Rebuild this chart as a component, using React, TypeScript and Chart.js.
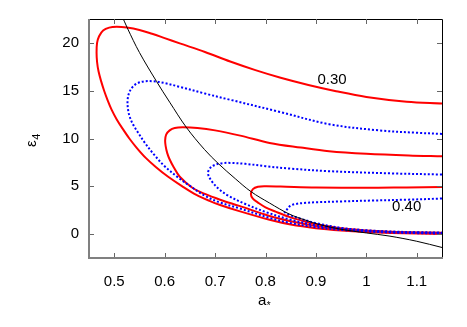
import { useEffect, useRef } from "react";
import { Chart, registerables } from "chart.js";

Chart.register(...registerables);

const xTicks = [0.5, 0.6, 0.7, 0.8, 0.9, 1.0, 1.1];
const xTickLabels = ["0.5", "0.6", "0.7", "0.8", "0.9", "1", "1.1"];
const yTicks = [0, 5, 10, 15, 20];
const yTickLabels = ["0", "5", "10", "15", "20"];

// red solid contour 0.30 (outer)
const red30X = [1.15, 1.08, 1.0, 0.94, 0.885, 0.83, 0.78, 0.73, 0.68, 0.63, 0.6, 0.575, 0.55, 0.525, 0.505, 0.49, 0.478, 0.47, 0.466, 0.465, 0.466, 0.469, 0.474, 0.48, 0.487, 0.495, 0.505, 0.517, 0.53, 0.545, 0.562, 0.583, 0.607, 0.635, 0.663, 0.69, 0.71, 0.748, 0.808, 0.85, 0.9, 0.95, 1.0, 1.05, 1.1, 1.15];
const red30Y = [13.65, 13.85, 14.35, 14.95, 15.6, 16.35, 17.15, 18.05, 19.05, 19.95, 20.5, 20.95, 21.35, 21.6, 21.68, 21.6, 21.3, 20.7, 20.0, 19.0, 18.0, 17.0, 16.0, 15.0, 14.0, 13.0, 12.0, 11.0, 10.0, 9.0, 8.0, 7.0, 6.0, 5.0, 4.1, 3.45, 3.05, 2.4, 1.5, 1.0, 0.62, 0.38, 0.22, 0.12, 0.06, 0.02];

// blue dotted contour (outer)
const blue1X = [1.15, 1.1, 1.025, 0.926, 0.827, 0.73, 0.68, 0.63, 0.6, 0.578, 0.56, 0.545, 0.535, 0.529, 0.5265, 0.527, 0.53, 0.537, 0.5475, 0.56, 0.58, 0.6, 0.626, 0.65, 0.68, 0.71, 0.748, 0.808, 0.85, 0.9, 0.95, 1.0, 1.05, 1.1, 1.15];
const blue1Y = [10.48, 10.6, 10.85, 11.5, 12.8, 14.05, 14.7, 15.4, 15.8, 15.98, 15.98, 15.75, 15.3, 14.7, 14.0, 13.2, 12.4, 11.5, 10.6, 9.6, 8.25, 7.1, 5.95, 5.05, 4.0, 3.3, 2.7, 1.7, 1.15, 0.72, 0.44, 0.27, 0.16, 0.1, 0.06];

// red solid contour (middle)
const red35X = [1.15, 1.084, 1.0, 0.926, 0.87, 0.808, 0.75, 0.7, 0.665, 0.636, 0.62, 0.61, 0.603, 0.601, 0.602, 0.605, 0.61, 0.618, 0.63, 0.655, 0.68, 0.71, 0.748, 0.808, 0.85, 0.9, 0.95, 1.0, 1.05, 1.1, 1.15];
const red35Y = [8.14, 8.22, 8.4, 8.67, 9.05, 9.54, 10.3, 10.85, 11.1, 11.17, 11.1, 10.85, 10.4, 9.8, 9.2, 8.5, 7.8, 7.0, 6.0, 4.85, 4.2, 3.6, 2.95, 1.9, 1.35, 0.85, 0.5, 0.31, 0.2, 0.14, 0.1];

// blue dotted contour (middle)
const blue2X = [1.15, 1.05, 0.926, 0.85, 0.8, 0.76, 0.73, 0.715, 0.7, 0.69, 0.686, 0.689, 0.696, 0.708, 0.725, 0.76, 0.801, 0.85, 0.9, 0.95, 1.0, 1.05, 1.1, 1.15];
const blue2Y = [6.23, 6.35, 6.58, 6.85, 7.1, 7.35, 7.45, 7.42, 7.25, 6.9, 6.4, 5.9, 5.35, 4.7, 4.05, 3.15, 2.3, 1.5, 0.92, 0.55, 0.34, 0.22, 0.16, 0.12];

// red solid contour 0.40 (inner)
const red40X = [1.15, 1.08, 1.0, 0.9, 0.83, 0.8, 0.785, 0.775, 0.771, 0.775, 0.785, 0.8, 0.82, 0.847, 0.88, 0.9, 0.95, 1.0, 1.05, 1.1, 1.15];
const red40Y = [4.92, 4.88, 4.84, 4.88, 4.97, 5.0, 4.95, 4.7, 4.2, 3.7, 3.3, 2.8, 2.35, 1.8, 1.3, 1.05, 0.6, 0.37, 0.25, 0.18, 0.14];

// blue dotted contour (inner)
const blue3X = [1.15, 1.08, 1.012, 0.95, 0.9, 0.88, 0.86, 0.849, 0.843, 0.838, 0.85, 0.87, 0.9, 0.95, 1.0, 1.05, 1.1, 1.15];
const blue3Y = [3.72, 3.6, 3.51, 3.42, 3.33, 3.27, 3.15, 2.95, 2.6, 2.3, 1.95, 1.6, 1.15, 0.65, 0.4, 0.27, 0.2, 0.16];

// thin black curve
const blackX = [0.514, 0.526, 0.55, 0.5838, 0.61, 0.643, 0.679, 0.707, 0.74, 0.771, 0.808, 0.847, 0.88, 0.9065, 0.95, 1.0, 1.045, 1.1, 1.15];
const blackY = [23.0, 21.56, 19.0, 15.98, 13.8, 11.17, 8.85, 7.35, 5.8, 4.45, 3.25, 2.1, 1.45, 1.0, 0.5, 0.12, -0.2, -0.75, -1.4];

const contourLabels = ["0.30", "0.40"];
const contourLabelX = [0.932, 1.08];
const contourLabelY = [16.1, 2.8];

const pts = (xs: number[], ys: number[]) => xs.map((x, i) => ({ x, y: ys[i] }));

const FONT = "'Liberation Sans', Arial, Helvetica, sans-serif";

const overlay = {
  id: "overlay",
  afterDraw(chart: any) {
    const { ctx, chartArea: a, scales } = chart;
    const xs = scales.x;
    const ys = scales.y;
    ctx.save();
    ctx.strokeStyle = "#000";
    ctx.lineWidth = 1;
    ctx.beginPath();
    ctx.moveTo(a.left, a.top + 0.5);
    ctx.lineTo(a.right + 0.5, a.top + 0.5);
    ctx.lineTo(a.right + 0.5, a.bottom);
    ctx.stroke();
    ctx.strokeStyle = "#666";
    ctx.lineWidth = 1;
    ctx.beginPath();
    for (const v of xTicks) {
      const px = Math.round(xs.getPixelForValue(v)) + 0.5;
      ctx.moveTo(px, a.bottom);
      ctx.lineTo(px, a.bottom - 5);
      ctx.moveTo(px, a.top);
      ctx.lineTo(px, a.top + 5);
    }
    for (const v of yTicks) {
      const py = Math.round(ys.getPixelForValue(v)) + 0.5;
      ctx.moveTo(a.left, py);
      ctx.lineTo(a.left + 5, py);
      ctx.moveTo(a.right, py);
      ctx.lineTo(a.right - 5, py);
    }
    ctx.stroke();
    ctx.strokeStyle = "#808080";
    ctx.lineWidth = 2;
    ctx.beginPath();
    ctx.moveTo(a.left, a.top);
    ctx.lineTo(a.left, a.bottom);
    ctx.lineTo(a.right + 1, a.bottom);
    ctx.stroke();

    ctx.fillStyle = "#000";
    ctx.font = `15px ${FONT}`;
    ctx.textAlign = "center";
    ctx.textBaseline = "middle";
    contourLabels.forEach((t, i) => {
      ctx.fillText(t, xs.getPixelForValue(contourLabelX[i]), ys.getPixelForValue(contourLabelY[i]));
    });

    ctx.textAlign = "left";
    ctx.textBaseline = "alphabetic";
    ctx.font = `15px ${FONT}`;
    ctx.fillText("a", 258, 305);
    const aw = ctx.measureText("a").width;
    ctx.font = `10px ${FONT}`;
    ctx.fillText("*", 258 + aw + 0.5, 309);

    ctx.save();
    ctx.translate(36, 147);
    ctx.rotate(-Math.PI / 2);
    ctx.font = `15px ${FONT}`;
    ctx.fillText("\u03b5", 0, 0);
    const ew = ctx.measureText("\u03b5").width;
    ctx.font = `11px ${FONT}`;
    ctx.fillText("4", ew + 0.5, 4);
    ctx.restore();

    ctx.restore();
  },
};

export default function App() {
  const ref = useRef<HTMLCanvasElement | null>(null);
  useEffect(() => {
    if (!ref.current) return;
    const line = (xs: number[], ys: number[], color: string, width: number, dash: number[]) => ({
      data: pts(xs, ys),
      showLine: true,
      borderColor: color,
      backgroundColor: color,
      borderWidth: width,
      borderDash: dash,
      pointRadius: 0,
      tension: 0.35,
      fill: false,
    });
    const chart = new Chart(ref.current, {
      type: "scatter",
      data: {
        datasets: [
          line(blackX, blackY, "#000000", 1, []),
          line(blue3X, blue3Y, "#0000ff", 2, [2, 2]),
          line(blue2X, blue2Y, "#0000ff", 2, [2, 2]),
          line(blue1X, blue1Y, "#0000ff", 2, [2, 2]),
          line(red40X, red40Y, "#ff0000", 2, []),
          line(red35X, red35Y, "#ff0000", 2, []),
          line(red30X, red30Y, "#ff0000", 2, []),
        ],
      },
      options: {
        responsive: false,
        animation: false,
        devicePixelRatio: 1,
        layout: { padding: { top: 19, right: 25, left: 0, bottom: 0 } },
        plugins: { legend: { display: false }, tooltip: { enabled: false }, title: { display: false } },
        scales: {
          x: {
            type: "linear",
            min: 0.45,
            max: 1.15,
            grid: { display: false, drawTicks: false },
            border: { display: false },
            ticks: {
              padding: 15,
              color: "#000",
              font: { size: 15, family: FONT },
              maxRotation: 0,
              callback: (_v: any, i: number) => xTickLabels[i],
            },
            afterBuildTicks: (s: any) => {
              s.ticks = xTicks.map((v) => ({ value: v }));
            },
            afterFit: (s: any) => {
              s.height = 69;
            },
          },
          y: {
            type: "linear",
            min: -2.5,
            max: 22.5,
            grid: { display: false, drawTicks: false },
            border: { display: false },
            ticks: {
              padding: 10,
              color: "#000",
              font: { size: 15, family: FONT },
              callback: (_v: any, i: number) => yTickLabels[i],
            },
            afterBuildTicks: (s: any) => {
              s.ticks = yTicks.map((v) => ({ value: v }));
            },
            afterFit: (s: any) => {
              s.width = 89;
            },
          },
        },
      },
      plugins: [overlay],
    });
    return () => chart.destroy();
  }, []);
  return (
    <div style={{ position: "fixed", left: 0, top: 0, width: 467, height: 327, background: "#fff" }}>
      <canvas ref={ref} width={467} height={327} style={{ display: "block" }} />
    </div>
  );
}
